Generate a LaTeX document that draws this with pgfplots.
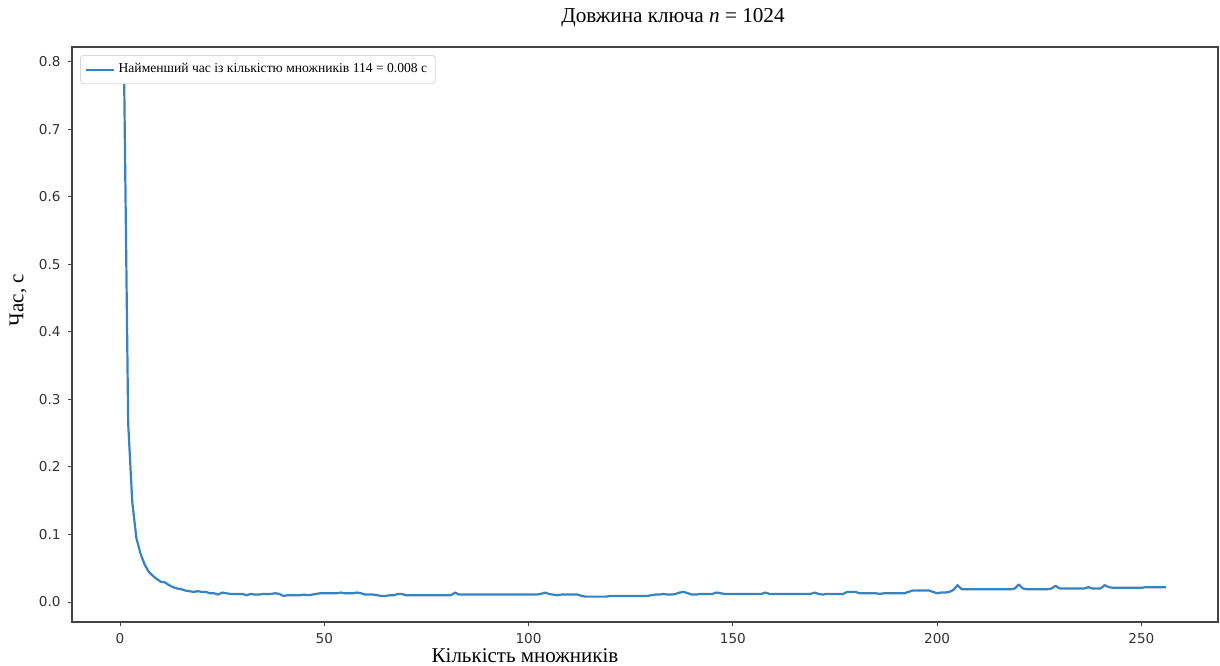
\documentclass[border=0pt]{standalone}
\usepackage{fontspec}
\setmainfont{Liberation Serif}
\newfontfamily\dejavu{DejaVu Sans}
\usepackage{pgfplots}
\pgfplotsset{compat=1.18}
\definecolor{mplblue}{HTML}{3683C2}
\definecolor{axgray}{HTML}{454545}
\begin{document}
\begin{tikzpicture}[x=1pt,y=1pt]
\useasboundingbox (0,0) rectangle (610,332.5);
\begin{axis}[
  at={(36pt,21.5pt)}, anchor=south west,
  scale only axis, width=573pt, height=287.5pt,
  xmin=-11.75, xmax=268.75, ymin=-0.0296, ymax=0.822,
  xtick={0,50,100,150,200,250},
  ytick={0,0.1,0.2,0.3,0.4,0.5,0.6,0.7,0.8},
  yticklabel style={/pgf/number format/.cd,fixed,fixed zerofill,precision=1},
  /pgf/number format/assume math mode=true,
  ticklabel style={font=\dejavu\fontsize{6.8}{8}\selectfont, text=black!80},
  tick align=outside, tick pos=left, major tick length=2.2pt,
  tick style={axgray, line width=0.5pt},
  axis line style={axgray, line width=0.7pt},
  legend style={at={(0.007,0.986)}, anchor=north west, draw=black!15, rounded corners=1.5pt, fill=white,
    font=\fontsize{6.8}{8}\selectfont, inner sep=2pt, row sep=0pt},
  legend cell align=left,
  legend image code/.code={\draw[#1] (0pt,0pt) -- (14pt,0pt);},
]
\addplot[mplblue, line width=1.1pt, line join=round] table {
1 0.783
2 0.265
3 0.148
4 0.095
5 0.072
6 0.056
7 0.045
8 0.039
9 0.034
10 0.030
11 0.029
12 0.025
13 0.022
14 0.020
15 0.019
16 0.017
17 0.016
18 0.015
19 0.016
20 0.015
21 0.015
22 0.013
23 0.013
24 0.011
25 0.014
26 0.013
27 0.012
28 0.012
29 0.012
30 0.012
31 0.010
32 0.012
33 0.011
34 0.011
35 0.012
36 0.012
37 0.012
38 0.013
39 0.012
40 0.009
41 0.010
42 0.010
43 0.010
44 0.010
45 0.011
46 0.010
47 0.011
48 0.012
49 0.013
50 0.013
51 0.013
52 0.013
53 0.013
54 0.014
55 0.013
56 0.013
57 0.013
58 0.014
59 0.013
60 0.011
61 0.011
62 0.011
63 0.010
64 0.009
65 0.009
66 0.010
67 0.010
68 0.012
69 0.012
70 0.010
71 0.010
72 0.010
73 0.010
74 0.010
75 0.010
76 0.010
77 0.010
78 0.010
79 0.010
80 0.010
81 0.010
82 0.014
83 0.011
84 0.011
85 0.011
86 0.011
87 0.011
88 0.011
89 0.011
90 0.011
91 0.011
92 0.011
93 0.011
94 0.011
95 0.011
96 0.011
97 0.011
98 0.011
99 0.011
100 0.011
101 0.011
102 0.011
103 0.012
104 0.014
105 0.012
106 0.011
107 0.010
108 0.011
109 0.011
110 0.011
111 0.011
112 0.011
113 0.009
114 0.008
115 0.008
116 0.008
117 0.008
118 0.008
119 0.008
120 0.009
121 0.009
122 0.009
123 0.009
124 0.009
125 0.009
126 0.009
127 0.009
128 0.009
129 0.009
130 0.010
131 0.011
132 0.011
133 0.012
134 0.011
135 0.011
136 0.012
137 0.014
138 0.015
139 0.013
140 0.011
141 0.011
142 0.012
143 0.012
144 0.012
145 0.012
146 0.014
147 0.013
148 0.012
149 0.012
150 0.012
151 0.012
152 0.012
153 0.012
154 0.012
155 0.012
156 0.012
157 0.012
158 0.014
159 0.012
160 0.012
161 0.012
162 0.012
163 0.012
164 0.012
165 0.012
166 0.012
167 0.012
168 0.012
169 0.012
170 0.014
171 0.012
172 0.011
173 0.012
174 0.012
175 0.012
176 0.012
177 0.012
178 0.015
179 0.015
180 0.015
181 0.013
182 0.013
183 0.013
184 0.013
185 0.013
186 0.012
187 0.013
188 0.013
189 0.013
190 0.013
191 0.013
192 0.013
193 0.015
194 0.017
195 0.017
196 0.017
197 0.017
198 0.017
199 0.015
200 0.013
201 0.014
202 0.014
203 0.015
204 0.018
205 0.025
206 0.019
207 0.019
208 0.019
209 0.019
210 0.019
211 0.019
212 0.019
213 0.019
214 0.019
215 0.019
216 0.019
217 0.019
218 0.019
219 0.020
220 0.026
221 0.020
222 0.019
223 0.019
224 0.019
225 0.019
226 0.019
227 0.019
228 0.020
229 0.024
230 0.020
231 0.020
232 0.020
233 0.020
234 0.020
235 0.020
236 0.020
237 0.022
238 0.020
239 0.020
240 0.020
241 0.025
242 0.022
243 0.021
244 0.021
245 0.021
246 0.021
247 0.021
248 0.021
249 0.021
250 0.021
251 0.022
252 0.022
253 0.022
254 0.022
255 0.022
256 0.022
};
\addlegendentry{Найменший час із кількістю множників 114 = 0.008 с}
\end{axis}
\node[font=\fontsize{10.6}{13}\selectfont] at (336.5,323.5) {Довжина ключа \textit{n} = 1024};
\node[font=\fontsize{10.5}{12}\selectfont] at (262.5,4.5) {Кількість множників};
\node[font=\fontsize{10.5}{12}\selectfont, rotate=90] at (9,182.5) {Час, с};
\end{tikzpicture}
\end{document}
